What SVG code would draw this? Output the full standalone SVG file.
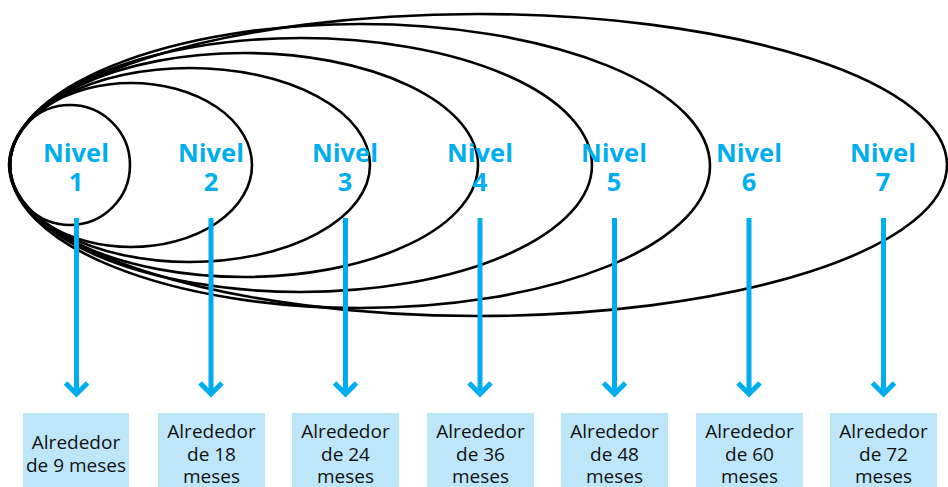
<svg xmlns="http://www.w3.org/2000/svg" width="948" height="487" viewBox="0 0 948 487">
<style>
.ring{fill:none;stroke:#000;stroke-width:2.6}
.lvl{font-family:"Open Sans","Noto Sans","Liberation Sans",sans-serif;font-weight:700;font-size:25.5px;fill:#00AEEF;text-anchor:middle}
.box{fill:#BDE6F9}
.bt{font-family:"Open Sans","Noto Sans","Liberation Sans",sans-serif;font-size:19px;fill:#111;text-anchor:middle}
.conn{stroke:#00AEEF;stroke-width:5;fill:none}
</style>
<defs>
<marker id="chev" markerUnits="userSpaceOnUse" viewBox="-16 -16 32 32" markerWidth="32" markerHeight="32" refX="0" refY="0" orient="auto" overflow="visible">
<path d="M-11,-11 L0,0 L-11,11" fill="none" stroke="#00AEEF" stroke-width="5" stroke-linejoin="miter"/>
</marker>
</defs>
<g id="nivel7"><ellipse class="ring" cx="478" cy="165" rx="469" ry="151"/><text class="lvl" x="883" y="162">Nivel</text><text class="lvl" x="883" y="191">7</text></g>
<g id="nivel6"><ellipse class="ring" cx="360" cy="166" rx="350" ry="142"/><text class="lvl" x="749" y="162">Nivel</text><text class="lvl" x="749" y="191">6</text></g>
<g id="nivel5"><ellipse class="ring" cx="301" cy="165" rx="291" ry="127"/><text class="lvl" x="614" y="162">Nivel</text><text class="lvl" x="614" y="191">5</text></g>
<g id="nivel4"><ellipse class="ring" cx="244" cy="165" rx="234" ry="112"/><text class="lvl" x="480" y="162">Nivel</text><text class="lvl" x="480" y="191">4</text></g>
<g id="nivel3"><ellipse class="ring" cx="190" cy="165" rx="180" ry="97"/><text class="lvl" x="345" y="162">Nivel</text><text class="lvl" x="345" y="191">3</text></g>
<g id="nivel2"><ellipse class="ring" cx="131" cy="165" rx="121" ry="82"/><text class="lvl" x="211" y="162">Nivel</text><text class="lvl" x="211" y="191">2</text></g>
<g id="nivel1"><ellipse class="ring" cx="70" cy="165" rx="60" ry="60"/><text class="lvl" x="76" y="162">Nivel</text><text class="lvl" x="76" y="191">1</text></g>
<g id="connectors">
<line class="conn" x1="76.5" y1="218" x2="76.5" y2="394" marker-end="url(#chev)"/>
<line class="conn" x1="211" y1="218" x2="211" y2="394" marker-end="url(#chev)"/>
<line class="conn" x1="345.5" y1="218" x2="345.5" y2="394" marker-end="url(#chev)"/>
<line class="conn" x1="480" y1="218" x2="480" y2="394" marker-end="url(#chev)"/>
<line class="conn" x1="614.5" y1="218" x2="614.5" y2="394" marker-end="url(#chev)"/>
<line class="conn" x1="749" y1="218" x2="749" y2="394" marker-end="url(#chev)"/>
<line class="conn" x1="883.5" y1="218" x2="883.5" y2="394" marker-end="url(#chev)"/>
</g>
<g id="box1"><rect class="box" x="23" y="413" width="106" height="74"/><text class="bt" x="76" y="449">Alrededor</text><text class="bt" x="76" y="472">de 9 meses</text></g>
<g id="box2"><rect class="box" x="158" y="413" width="107" height="74"/><text class="bt" x="211.5" y="438">Alrededor</text><text class="bt" x="211.5" y="461">de 18</text><text class="bt" x="211.5" y="483">meses</text></g>
<g id="box3"><rect class="box" x="292" y="413" width="107" height="74"/><text class="bt" x="345.5" y="438">Alrededor</text><text class="bt" x="345.5" y="461">de 24</text><text class="bt" x="345.5" y="483">meses</text></g>
<g id="box4"><rect class="box" x="427" y="413" width="107" height="74"/><text class="bt" x="480.5" y="438">Alrededor</text><text class="bt" x="480.5" y="461">de 36</text><text class="bt" x="480.5" y="483">meses</text></g>
<g id="box5"><rect class="box" x="561" y="413" width="107" height="74"/><text class="bt" x="614.5" y="438">Alrededor</text><text class="bt" x="614.5" y="461">de 48</text><text class="bt" x="614.5" y="483">meses</text></g>
<g id="box6"><rect class="box" x="696" y="413" width="107" height="74"/><text class="bt" x="749.5" y="438">Alrededor</text><text class="bt" x="749.5" y="461">de 60</text><text class="bt" x="749.5" y="483">meses</text></g>
<g id="box7"><rect class="box" x="830" y="413" width="107" height="74"/><text class="bt" x="883.5" y="438">Alrededor</text><text class="bt" x="883.5" y="461">de 72</text><text class="bt" x="883.5" y="483">meses</text></g>
</svg>
